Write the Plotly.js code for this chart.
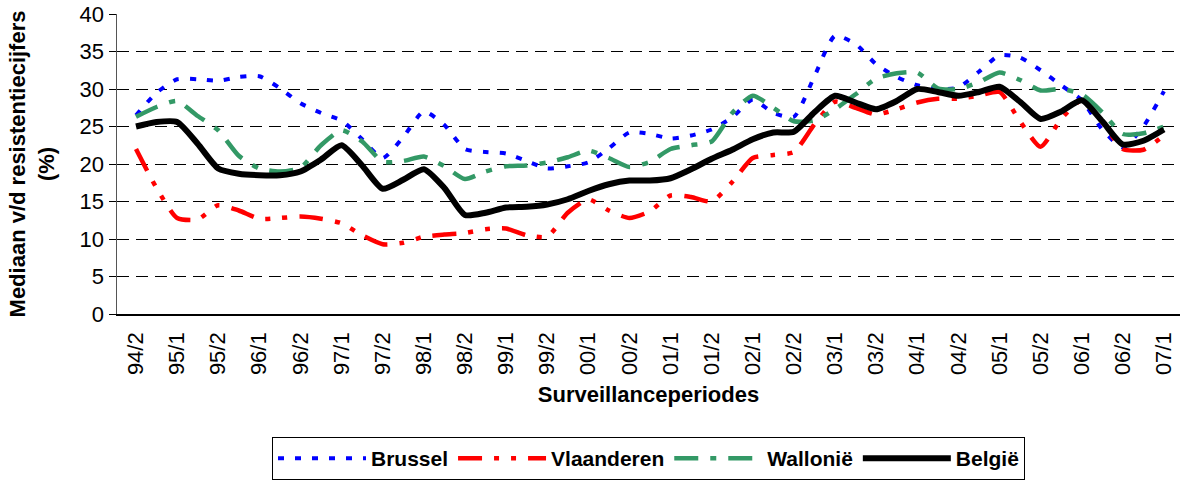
<!DOCTYPE html>
<html>
<head>
<meta charset="utf-8">
<script src="https://cdn.plot.ly/plotly-3.0.1.min.js"></script>
<style>html,body{margin:0;padding:0;background:#fff;}#chart{width:1186px;height:481px;}</style>
</head>
<body>
<div id="chart"></div>
<script>
// Surveillance periods (category labels)
const periods = ["94/2","95/1","95/2","96/1","96/2","97/1","97/2","98/1","98/2","99/1","99/2","00/1","00/2","01/1","01/2","02/1","02/2","03/1","03/2","04/1","04/2","05/1","05/2","06/1","06/2","07/1"];
// values sampled twice per period (period start and mid-period)
const samplesPerPeriod = 2;

const brussel = [26.5,29.5,31.3,31.3,31.1,31.6,31.7,30.1,28.1,26.8,25.8,23.3,20.8,23.6,27.0,25.2,22.0,21.6,21.4,20.4,19.4,19.7,20.2,22.1,24.2,24.0,23.4,23.8,24.6,26.2,28.6,26.8,26.3,31.7,37.1,36.0,33.3,31.6,30.5,30.0,30.2,32.3,34.5,34.2,32.5,30.5,28.5,24.6,22.2,25.0,29.7];
const vlaanderen = [22.0,16.8,12.8,12.6,14.5,13.8,12.7,12.8,13.0,12.7,12.1,10.5,9.3,9.5,10.3,10.6,10.8,11.3,11.4,10.5,10.3,13.5,15.3,13.8,12.8,13.7,15.8,15.6,15.0,17.6,20.8,21.2,21.6,25.3,28.3,27.5,26.6,27.3,28.2,28.7,28.7,29.1,29.6,25.7,22.3,26.0,28.5,25.6,22.0,21.9,23.8];
const wallonie = [26.3,27.6,28.4,26.4,24.5,21.1,19.4,19.0,19.5,22.5,24.5,23.0,20.3,20.4,21.0,19.7,18.0,19.0,19.7,19.8,20.2,20.9,21.8,20.8,19.6,20.3,22.0,22.5,23.0,26.8,29.1,27.5,25.7,25.8,27.3,29.3,31.4,32.1,32.2,30.1,30.0,30.9,32.2,31.2,29.8,30.0,29.3,26.9,24.0,24.1,25.0];
const belgie = [25.0,25.6,25.6,22.7,19.4,18.7,18.5,18.5,19.0,20.6,22.5,19.8,16.7,17.9,19.3,16.8,13.2,13.5,14.2,14.3,14.6,15.3,16.4,17.3,17.8,17.8,18.1,19.3,20.7,21.9,23.3,24.2,24.3,26.9,29.1,28.2,27.3,28.4,30.0,29.6,29.1,29.6,30.3,28.3,26.0,27.0,28.5,25.7,22.6,23.1,24.6];

const seriesNames = ["Brussel","Vlaanderen","Walloni\u00eb","Belgi\u00eb"];
const yTicks = [0,5,10,15,20,25,30,35,40];

const xs = brussel.map((_, i) => i / samplesPerPeriod);
const font = "Liberation Sans, Arial, sans-serif";

const styles = [
  {color: "#0000FF", width: 4, dash: "6px,11px"},
  {color: "#FF0000", width: 4.5, dash: "24px,12px,5px,12px,5px,12px"},
  {color: "#339966", width: 4.5, dash: "24px,12px,6px,12px"},
  {color: "#000000", width: 6, dash: "solid"}
];
const values = [brussel, vlaanderen, wallonie, belgie];

const traces = values.map((v, k) => ({
  type: "scatter", mode: "lines", name: seriesNames[k], x: xs, y: v,
  line: Object.assign({shape: "spline", smoothing: 0.6}, styles[k])
}));

const layout = {
  width: 1186, height: 481,
  margin: {l: 117, r: 6, t: 14, b: 167, autoexpand: false},
  paper_bgcolor: "#fff", plot_bgcolor: "#fff",
  font: {family: font, size: 22, color: "#000"},
  showlegend: true,
  legend: {
    orientation: "h", x: 0.5, xanchor: "center", y: -0.41, yanchor: "top",
    bordercolor: "#000", borderwidth: 1, bgcolor: "#fff",
    font: {family: font, size: 21, color: "#000", weight: "bold"},
    itemwidth: 88, traceorder: "normal"
  },
  xaxis: {
    range: [-0.462, 25.39],
    tickmode: "array",
    tickvals: periods.map((_, i) => i),
    ticktext: periods,
    tickangle: -90,
    tickfont: {family: font, size: 22},
    ticks: "", ticklabelstandoff: 8,
    showgrid: false, zeroline: false,
    showline: true, linecolor: "#000", linewidth: 1.5,
    title: {text: "<b>Surveillanceperiodes</b>", font: {family: font, size: 22}, standoff: 12}
  },
  yaxis: {
    range: [0, 40],
    tickmode: "array", tickvals: yTicks,
    ticks: "outside", ticklen: 7, tickcolor: "#000", tickwidth: 1,
    tickfont: {family: font, size: 22},
    showgrid: true, gridcolor: "#000", gridwidth: 1, griddash: "12px,7px",
    zeroline: false,
    showline: true, linecolor: "#555", linewidth: 1.5,
    title: {text: "<b>Mediaan v/d resistentiecijfers<br>(%)</b>", font: {family: font, size: 22}, standoff: 19}
  }
};

Plotly.newPlot("chart", traces, layout, {displayModeBar: false, staticPlot: true});
</script>
</body>
</html>
